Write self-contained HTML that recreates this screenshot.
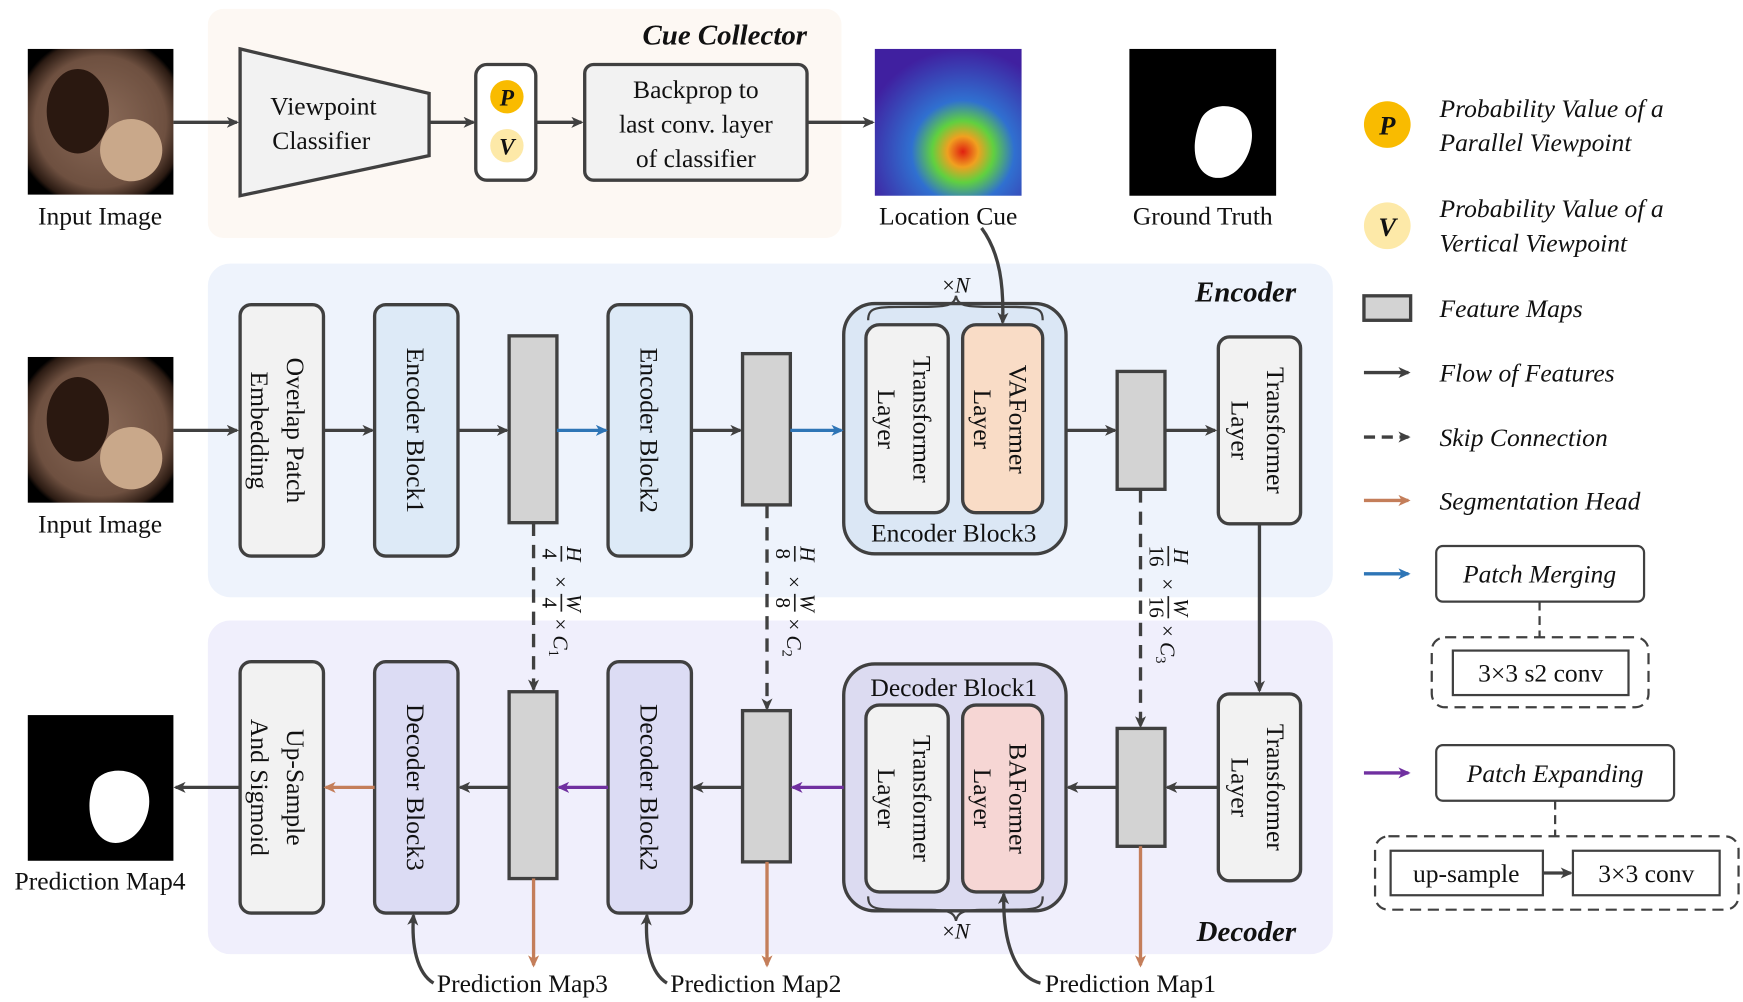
<!DOCTYPE html>
<html><head><meta charset="utf-8"><style>
html,body{margin:0;padding:0;background:#fff;}
svg{display:block;}
text{font-family:"Liberation Serif",serif;fill:#111;}
.t{font-size:23px;}
.it{font-style:italic;}
</style></head><body>
<svg width="1743" height="1002" viewBox="0 0 1568 901" preserveAspectRatio="none" xmlns="http://www.w3.org/2000/svg">
<defs>
<marker id="ah" markerWidth="11" markerHeight="10" refX="9" refY="5" orient="auto" markerUnits="userSpaceOnUse"><path d="M0,0 L11,5 L0,10 L3,5z" fill="#404040"/></marker>
<marker id="ahb" markerWidth="11" markerHeight="10" refX="9" refY="5" orient="auto" markerUnits="userSpaceOnUse"><path d="M0,0 L11,5 L0,10 L3,5z" fill="#2e75b6"/></marker>
<marker id="ahp" markerWidth="11" markerHeight="10" refX="9" refY="5" orient="auto" markerUnits="userSpaceOnUse"><path d="M0,0 L11,5 L0,10 L3,5z" fill="#7030a0"/></marker>
<marker id="aho" markerWidth="11" markerHeight="10" refX="9" refY="5" orient="auto" markerUnits="userSpaceOnUse"><path d="M0,0 L11,5 L0,10 L3,5z" fill="#c47e5a"/></marker>
<radialGradient id="colon" cx="0.5" cy="0.5" r="0.6">
<stop offset="0" stop-color="#8a6a58"/><stop offset="0.75" stop-color="#6e5040"/><stop offset="0.95" stop-color="#2a1a12"/><stop offset="1" stop-color="#000"/></radialGradient>
<radialGradient id="heat" cx="0.6" cy="0.7" r="0.7">
<stop offset="0" stop-color="#e02010"/><stop offset="0.15" stop-color="#f0a020"/><stop offset="0.3" stop-color="#60d040"/><stop offset="0.5" stop-color="#3070d0"/><stop offset="1" stop-color="#4020a0"/></radialGradient>
</defs>

<!-- backgrounds -->
<rect x="187" y="8" width="570" height="206" rx="14" fill="#fdf8f3"/>
<rect x="187" y="237" width="1012" height="300" rx="20" fill="#eef3fc"/>
<rect x="187" y="558" width="1012" height="300" rx="20" fill="#f0effc"/>
<text x="726" y="40" text-anchor="end" font-size="26" font-weight="bold" font-style="italic">Cue Collector</text>
<text x="1166" y="271" text-anchor="end" font-size="26" font-weight="bold" font-style="italic">Encoder</text>
<text x="1166" y="846" text-anchor="end" font-size="26" font-weight="bold" font-style="italic">Decoder</text>

<!-- images -->
<rect x="25" y="44" width="131" height="131" fill="url(#colon)"/>
<ellipse cx="70" cy="100" rx="28" ry="38" fill="#2a1810"/>
<circle cx="118" cy="135" r="28" fill="#c9a88a"/>
<rect x="25" y="321" width="131" height="131" fill="url(#colon)"/>
<ellipse cx="70" cy="377" rx="28" ry="38" fill="#2a1810"/>
<circle cx="118" cy="412" r="28" fill="#c9a88a"/>
<rect x="787" y="44" width="132" height="132" fill="url(#heat)"/>
<rect x="1016" y="44" width="132" height="132" fill="#000"/>
<path d="M1080,108 C1088,90 1118,92 1124,110 C1132,128 1118,160 1096,160 C1078,160 1068,138 1080,108z" fill="#fff"/>
<rect x="25" y="643" width="131" height="131" fill="#000"/>
<path d="M85,703 C95,688 125,690 132,708 C140,728 126,758 104,758 C84,758 74,728 85,703z" fill="#fff"/>
<text class="t" x="90" y="202" text-anchor="middle">Input Image</text>
<text class="t" x="90" y="479" text-anchor="middle">Input Image</text>
<text class="t" x="90" y="800" text-anchor="middle">Prediction Map4</text>
<text class="t" x="853" y="202" text-anchor="middle">Location Cue</text>
<text class="t" x="1082" y="202" text-anchor="middle">Ground Truth</text>

<!-- cue collector shapes -->
<polygon points="216,44 386,84 386,140 216,176" fill="#f2f2f2" stroke="#404040" stroke-width="3"/>
<text class="t" x="291" y="103" text-anchor="middle">Viewpoint</text>
<text class="t" x="289" y="134" text-anchor="middle">Classifier</text>
<rect x="428" y="58" width="54" height="104" rx="10" fill="#fff" stroke="#404040" stroke-width="3"/>
<circle cx="456" cy="87" r="15" fill="#f9bb00"/>
<circle cx="456" cy="131" r="15" fill="#fde9a8"/>
<text x="456" y="95" text-anchor="middle" font-size="21" font-style="italic" font-weight="bold">P</text>
<text x="456" y="139" text-anchor="middle" font-size="21" font-style="italic" font-weight="bold">V</text>
<rect x="526" y="58" width="200" height="104" rx="8" fill="#f2f2f2" stroke="#404040" stroke-width="3"/>
<text class="t" x="626" y="88" text-anchor="middle">Backprop to</text>
<text class="t" x="626" y="119" text-anchor="middle">last conv. layer</text>
<text class="t" x="626" y="150" text-anchor="middle">of classifier</text>

<!-- encoder shapes -->
<g stroke="#404040" stroke-width="3">
<rect x="216" y="274" width="75" height="226" rx="10" fill="#f2f2f2"/>
<rect x="337" y="274" width="75" height="226" rx="10" fill="#ddeaf7"/>
<rect x="458" y="302" width="43" height="168" fill="#d3d3d3"/>
<rect x="547" y="274" width="75" height="226" rx="10" fill="#ddeaf7"/>
<rect x="668" y="318" width="43" height="136" fill="#d3d3d3"/>
<rect x="759" y="273" width="200" height="225" rx="28" fill="#dbe7f5"/>
<rect x="779" y="292" width="74" height="169" rx="12" fill="#f2f2f2"/>
<rect x="866" y="292" width="72" height="169" rx="12" fill="#f9dcc6"/>
<rect x="1005" y="334" width="43" height="106" fill="#d3d3d3"/>
<rect x="1096" y="303" width="74" height="168" rx="10" fill="#f2f2f2"/>
<!-- decoder shapes -->
<rect x="1096" y="624" width="74" height="168" rx="10" fill="#f2f2f2"/>
<rect x="1005" y="655" width="43" height="106" fill="#d3d3d3"/>
<rect x="759" y="597" width="200" height="222" rx="28" fill="#dcdbf1"/>
<rect x="779" y="634" width="74" height="168" rx="12" fill="#f2f2f2"/>
<rect x="866" y="634" width="72" height="168" rx="12" fill="#f6d6d4"/>
<rect x="668" y="639" width="43" height="136" fill="#d3d3d3"/>
<rect x="547" y="595" width="75" height="226" rx="10" fill="#dcdcf4"/>
<rect x="458" y="622" width="43" height="168" fill="#d3d3d3"/>
<rect x="337" y="595" width="75" height="226" rx="10" fill="#dcdcf4"/>
<rect x="216" y="595" width="75" height="226" rx="10" fill="#f2f2f2"/>
</g>
<!-- braces -->
<path d="M781,288 C781,276 788,276 818,276 C850,276 858,276 860,266 C862,276 870,276 902,276 C932,276 938,276 938,288" fill="none" stroke="#404040" stroke-width="2"/>
<text x="860" y="263" text-anchor="middle" font-size="20">×<tspan font-style="italic">N</tspan></text>
<path d="M781,806 C781,818 788,818 818,818 C850,818 858,818 860,828 C862,818 870,818 902,818 C932,818 938,818 938,806" fill="none" stroke="#404040" stroke-width="2"/>
<text x="860" y="844" text-anchor="middle" font-size="20">×<tspan font-style="italic">N</tspan></text>
<text class="t" x="858" y="487" text-anchor="middle">Encoder Block3</text>
<text class="t" x="858" y="626" text-anchor="middle">Decoder Block1</text>

<!-- connectors (drawn on top) -->
<g stroke="#404040" stroke-width="3" fill="none">
<line x1="156" y1="110" x2="213" y2="110" marker-end="url(#ah)"/>
<line x1="386" y1="110" x2="426" y2="110" marker-end="url(#ah)"/>
<line x1="482" y1="110" x2="523" y2="110" marker-end="url(#ah)"/>
<line x1="726" y1="110" x2="785" y2="110" marker-end="url(#ah)"/>
<path d="M883,205 C900,228 903,258 902,290" marker-end="url(#ah)"/>
<line x1="156" y1="387" x2="213" y2="387" marker-end="url(#ah)"/>
<line x1="291" y1="387" x2="335" y2="387" marker-end="url(#ah)"/>
<line x1="412" y1="387" x2="456" y2="387" marker-end="url(#ah)"/>
<line x1="622" y1="387" x2="666" y2="387" marker-end="url(#ah)"/>
<line x1="959" y1="387" x2="1003" y2="387" marker-end="url(#ah)"/>
<line x1="1048" y1="387" x2="1093" y2="387" marker-end="url(#ah)"/>
<line x1="1133" y1="471" x2="1133" y2="621" marker-end="url(#ah)"/>
<line x1="1096" y1="708" x2="1050" y2="708" marker-end="url(#ah)"/>
<line x1="1005" y1="708" x2="961" y2="708" marker-end="url(#ah)"/>
<line x1="668" y1="708" x2="624" y2="708" marker-end="url(#ah)"/>
<line x1="458" y1="708" x2="414" y2="708" marker-end="url(#ah)"/>
<line x1="216" y1="708" x2="158" y2="708" marker-end="url(#ah)"/>
<line x1="480" y1="470" x2="480" y2="620" stroke-dasharray="12,8" marker-end="url(#ah)"/>
<line x1="690" y1="454" x2="690" y2="637" stroke-dasharray="12,8" marker-end="url(#ah)"/>
<line x1="1026" y1="440" x2="1026" y2="653" stroke-dasharray="12,8" marker-end="url(#ah)"/>
<path d="M390,884 C375,875 370,850 372,823" marker-end="url(#ah)"/>
<path d="M600,884 C585,875 580,850 582,823" marker-end="url(#ah)"/>
<path d="M936,884 C912,878 902,845 903,804" marker-end="url(#ah)"/>
</g>
<g stroke-width="3">
<line x1="501" y1="387" x2="545" y2="387" stroke="#2e75b6" marker-end="url(#ahb)"/>
<line x1="711" y1="387" x2="757" y2="387" stroke="#2e75b6" marker-end="url(#ahb)"/>
<line x1="759" y1="708" x2="713" y2="708" stroke="#7030a0" marker-end="url(#ahp)"/>
<line x1="547" y1="708" x2="503" y2="708" stroke="#7030a0" marker-end="url(#ahp)"/>
<line x1="337" y1="708" x2="293" y2="708" stroke="#c47e5a" marker-end="url(#aho)"/>
<line x1="480" y1="790" x2="480" y2="868" stroke="#c47e5a" marker-end="url(#aho)"/>
<line x1="690" y1="775" x2="690" y2="868" stroke="#c47e5a" marker-end="url(#aho)"/>
<line x1="1026" y1="761" x2="1026" y2="868" stroke="#c47e5a" marker-end="url(#aho)"/>
</g>

<!-- rotated texts -->
<g class="t" font-size="23" text-anchor="middle">
<text transform="translate(258,387) rotate(90)">Overlap Patch</text>
<text transform="translate(226,387) rotate(90)">Embedding</text>
<text transform="translate(366,387) rotate(90)">Encoder Block1</text>
<text transform="translate(576,387) rotate(90)">Encoder Block2</text>
<text transform="translate(822,377) rotate(90)">Transformer</text>
<text transform="translate(790,377) rotate(90)">Layer</text>
<text transform="translate(908,377) rotate(90)">VAFormer</text>
<text transform="translate(876,377) rotate(90)">Layer</text>
<text transform="translate(1140,387) rotate(90)">Transformer</text>
<text transform="translate(1108,387) rotate(90)">Layer</text>
<text transform="translate(1140,708) rotate(90)">Transformer</text>
<text transform="translate(1108,708) rotate(90)">Layer</text>
<text transform="translate(822,718) rotate(90)">Transformer</text>
<text transform="translate(790,718) rotate(90)">Layer</text>
<text transform="translate(908,718) rotate(90)">BAFormer</text>
<text transform="translate(876,718) rotate(90)">Layer</text>
<text transform="translate(576,708) rotate(90)">Decoder Block2</text>
<text transform="translate(366,708) rotate(90)">Decoder Block3</text>
<text transform="translate(258,708) rotate(90)">Up-Sample</text>
<text transform="translate(226,708) rotate(90)">And Sigmoid</text>
</g>

<!-- dimension labels -->
<g font-size="19">
<g transform="translate(504,490) rotate(90)">
<text x="8" y="-6" text-anchor="middle" font-style="italic">H</text><line x1="1" y1="-1" x2="15" y2="-1" stroke="#222" stroke-width="1.5"/><text x="8" y="16" text-anchor="middle">4</text>
<text x="28" y="6">×</text>
<text x="52" y="-6" text-anchor="middle" font-style="italic">W</text><line x1="44" y1="-1" x2="60" y2="-1" stroke="#222" stroke-width="1.5"/><text x="52" y="16" text-anchor="middle">4</text>
<text x="66" y="6">× <tspan font-style="italic">C</tspan><tspan font-size="13" dy="4">1</tspan></text>
</g>
<g transform="translate(714,490) rotate(90)">
<text x="8" y="-6" text-anchor="middle" font-style="italic">H</text><line x1="1" y1="-1" x2="15" y2="-1" stroke="#222" stroke-width="1.5"/><text x="8" y="16" text-anchor="middle">8</text>
<text x="28" y="6">×</text>
<text x="52" y="-6" text-anchor="middle" font-style="italic">W</text><line x1="44" y1="-1" x2="60" y2="-1" stroke="#222" stroke-width="1.5"/><text x="52" y="16" text-anchor="middle">8</text>
<text x="66" y="6">× <tspan font-style="italic">C</tspan><tspan font-size="13" dy="4">2</tspan></text>
</g>
<g transform="translate(1050,490) rotate(90)">
<text x="10" y="-6" text-anchor="middle" font-style="italic">H</text><line x1="1" y1="-1" x2="19" y2="-1" stroke="#222" stroke-width="1.5"/><text x="10" y="16" text-anchor="middle">16</text>
<text x="30" y="6">×</text>
<text x="56" y="-6" text-anchor="middle" font-style="italic">W</text><line x1="46" y1="-1" x2="66" y2="-1" stroke="#222" stroke-width="1.5"/><text x="56" y="16" text-anchor="middle">16</text>
<text x="72" y="6">× <tspan font-style="italic">C</tspan><tspan font-size="13" dy="4">3</tspan></text>
</g>
</g>

<text class="t" x="393" y="892">Prediction Map3</text>
<text class="t" x="603" y="892">Prediction Map2</text>
<text class="t" x="940" y="892">Prediction Map1</text>

<!-- legend -->
<circle cx="1248" cy="112" r="21" fill="#f9bb00"/>
<text x="1248" y="121" text-anchor="middle" font-size="24" font-style="italic" font-weight="bold">P</text>
<circle cx="1248" cy="203" r="21" fill="#fde9a8"/>
<text x="1248" y="212" text-anchor="middle" font-size="24" font-style="italic" font-weight="bold">V</text>
<g class="t it">
<text x="1295" y="105">Probability Value of a</text>
<text x="1295" y="136">Parallel Viewpoint</text>
<text x="1295" y="195">Probability Value of a</text>
<text x="1295" y="226">Vertical Viewpoint</text>
<text x="1295" y="285">Feature Maps</text>
<text x="1295" y="343">Flow of Features</text>
<text x="1295" y="401">Skip Connection</text>
<text x="1295" y="458">Segmentation Head</text>
<text x="1385" y="524" text-anchor="middle">Patch Merging</text>
<text x="1399" y="703" text-anchor="middle">Patch Expanding</text>
</g>
<rect x="1227" y="266" width="42" height="22" fill="#d3d3d3" stroke="#404040" stroke-width="3"/>
<line x1="1227" y1="335" x2="1267" y2="335" stroke="#404040" stroke-width="3" marker-end="url(#ah)"/>
<line x1="1227" y1="393" x2="1267" y2="393" stroke="#404040" stroke-width="3" stroke-dasharray="10,6" marker-end="url(#ah)"/>
<line x1="1227" y1="450" x2="1267" y2="450" stroke="#c47e5a" stroke-width="3" marker-end="url(#aho)"/>
<line x1="1227" y1="516" x2="1267" y2="516" stroke="#2e75b6" stroke-width="3" marker-end="url(#ahb)"/>
<line x1="1227" y1="695" x2="1267" y2="695" stroke="#7030a0" stroke-width="3" marker-end="url(#ahp)"/>
<g fill="none" stroke="#404040" stroke-width="2">
<rect x="1292" y="491" width="187" height="50" rx="6"/>
<line x1="1385" y1="541" x2="1385" y2="573" stroke-dasharray="8,5"/>
<rect x="1288" y="573" width="195" height="63" rx="12" stroke-dasharray="10,6"/>
<rect x="1307" y="585" width="158" height="40"/>
<rect x="1292" y="670" width="214" height="50" rx="6"/>
<line x1="1399" y1="720" x2="1399" y2="752" stroke-dasharray="8,5"/>
<rect x="1237" y="752" width="327" height="66" rx="12" stroke-dasharray="10,6"/>
<rect x="1251" y="765" width="137" height="40"/>
<rect x="1415" y="765" width="132" height="40"/>
<line x1="1388" y1="785" x2="1413" y2="785" stroke-width="3" marker-end="url(#ah)"/>
</g>
<text class="t" x="1386" y="613" text-anchor="middle">3×3 s2 conv</text>
<text class="t" x="1319" y="793" text-anchor="middle">up-sample</text>
<text class="t" x="1481" y="793" text-anchor="middle">3×3 conv</text>
</svg>
</body></html>
